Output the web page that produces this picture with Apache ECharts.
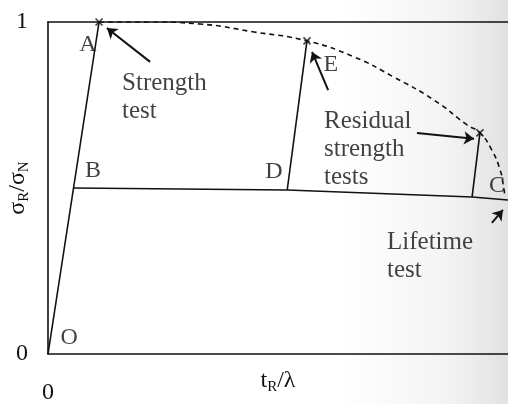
<!DOCTYPE html>
<html>
<head>
<meta charset="utf-8">
<script src="https://cdn.jsdelivr.net/npm/echarts@6/dist/echarts.min.js"></script>
<style>
  html, body { margin: 0; padding: 0; background: #fff; }
</style>
</head>
<body>
<div id="main" style="width: 508px; height: 404px;"></div>
<script>
// values, x = t_R/lambda (scaled), y = sigma_R/sigma_N
const loadLine = [[0, 0], [0.111, 1.0]];                  // O -> A
const lifeLine = [[0.055, 0.5], [0.52, 0.494], [0.922, 0.473], [1.0, 0.464]]; // B -> C
const residualE = [[0.52, 0.494], [0.563, 0.943]];       // D -> E
const residualC = [[0.922, 0.473], [0.939, 0.666]];
const strengthCurve = [
    [0.111, 1.0], [0.222, 1.0], [0.330, 0.994], [0.448, 0.970], [0.563, 0.943],
    [0.665, 0.895], [0.752, 0.834], [0.839, 0.765], [0.911, 0.690], [0.939, 0.666],
    [0.965, 0.614], [0.983, 0.554], [0.989, 0.515], [0.993, 0.479]
];
const testPoints = [[0.111, 1.0], [0.563, 0.943], [0.939, 0.666]];
const letters = [
    ['A', 0.087, 0.931], ['B', 0.098, 0.551], ['O', 0.046, 0.048],
    ['D', 0.491, 0.548], ['E', 0.615, 0.870], ['C', 0.976, 0.506]
];
const notes = [
    ['Strength\ntest', 0.161, 0.774],
    ['Residual\nstrength\ntests', 0.600, 0.617],
    ['Lifetime\ntest', 0.737, 0.295]
];
// arrows: [from, to]
const arrows = [
    [[0.222, 0.880], [0.128, 0.982]],
    [[0.609, 0.795], [0.574, 0.910]],
    [[0.802, 0.666], [0.926, 0.648]],
    [[0.965, 0.395], [0.989, 0.434]]
];
const yTicks = ['0', '1'];

const ink = '#111';
const serif = '"Liberation Serif", "DejaVu Serif", serif';

function solidLine(data) {
    return {
        type: 'line', data: data, symbol: 'none', silent: true,
        lineStyle: { color: ink, width: 1.6 }
    };
}

const chart = echarts.init(document.getElementById('main'));
chart.setOption({
    animation: false,
    backgroundColor: '#fff',
    textStyle: { fontFamily: serif, color: ink },
    graphic: [{
        type: 'rect', silent: true, z: -10,
        shape: { x: 340, y: 0, width: 168, height: 404 },
        style: {
            fill: {
                type: 'linear', x: 0, y: 0, x2: 1, y2: 0,
                colorStops: [
                    { offset: 0, color: 'rgba(120,120,120,0)' },
                    { offset: 0.6, color: 'rgba(120,120,120,0.08)' },
                    { offset: 1, color: 'rgba(90,90,90,0.18)' }
                ]
            }
        }
    }],
    grid: { left: 48, right: 0, top: 22, bottom: 50, containLabel: false, outerBoundsMode: 'none' },
    xAxis: [{
        type: 'value', min: 0, max: 1, interval: 1,
        name: '{t|t}{s|R}{t|/λ}',
        nameLocation: 'middle', nameGap: 12, nameMoveOverlap: false,
        nameTextStyle: {
            rich: {
                t: { fontFamily: serif, fontSize: 24, color: ink },
                s: { fontFamily: serif, fontSize: 15, color: ink, padding: [14, 0, 0, 0] }
            }
        },
        axisLine: { show: true, lineStyle: { color: ink, width: 1.6 } },
        axisTick: { show: false },
        splitLine: { show: false },
        axisLabel: {
            margin: 27, fontSize: 24, fontFamily: serif, color: ink,
            formatter: function (v) { return v === 0 ? '0' : ''; }
        }
    }, {
        type: 'value', min: 0, max: 1, position: 'top',
        axisLine: { show: true, lineStyle: { color: ink, width: 1.6 } },
        axisTick: { show: false }, axisLabel: { show: false }, splitLine: { show: false }
    }],
    yAxis: {
        type: 'value', min: 0, max: 1, interval: 1,
        name: '{t|σ}{s|R}{t|/σ}{s|N}',
        nameLocation: 'middle', nameGap: 16, nameRotate: 90, nameMoveOverlap: false,
        nameTextStyle: {
            rich: {
                t: { fontFamily: serif, fontSize: 24, color: ink },
                s: { fontFamily: serif, fontSize: 15, color: ink, padding: [14, 0, 0, 0] }
            }
        },
        axisLine: { show: true, lineStyle: { color: ink, width: 1.6 } },
        axisTick: { show: false },
        splitLine: { show: false },
        axisLabel: {
            margin: 20, fontSize: 24, fontFamily: serif, color: ink,
            formatter: function (v) { return yTicks[v]; }
        }
    },
    series: [
        solidLine(loadLine),
        solidLine(lifeLine),
        solidLine(residualE),
        solidLine(residualC),
        {
            type: 'line', data: strengthCurve, symbol: 'none', smooth: true, silent: true,
            lineStyle: { color: ink, width: 1.6, type: [5, 4] }
        },
        {
            type: 'scatter', data: testPoints, silent: true,
            symbol: 'path://M0,0L10,10M10,0L0,10', symbolSize: 7,
            itemStyle: { color: 'none', borderColor: ink, borderWidth: 1.6 }
        },
        {
            type: 'scatter', silent: true, symbolSize: 0,
            data: letters.map(function (d) { return { value: [d[1], d[2]], name: d[0] }; }),
            label: {
                show: true, position: 'inside', formatter: '{b}',
                fontFamily: serif, fontSize: 24, color: ink
            }
        },
        {
            type: 'scatter', silent: true, symbolSize: 0,
            data: notes.map(function (d) { return { value: [d[1], d[2]], name: d[0] }; }),
            label: {
                show: true, position: [0, 0], align: 'left', verticalAlign: 'middle',
                formatter: '{b}', fontFamily: serif, fontSize: 25, lineHeight: 28, color: ink
            }
        },
        {
            type: 'lines', coordinateSystem: 'cartesian2d', silent: true,
            data: arrows.map(function (a) { return { coords: a }; }),
            symbol: ['none', 'arrow'], symbolSize: 10,
            lineStyle: { color: ink, width: 2, opacity: 1 }
        }
    ]
});
</script>
</body>
</html>
